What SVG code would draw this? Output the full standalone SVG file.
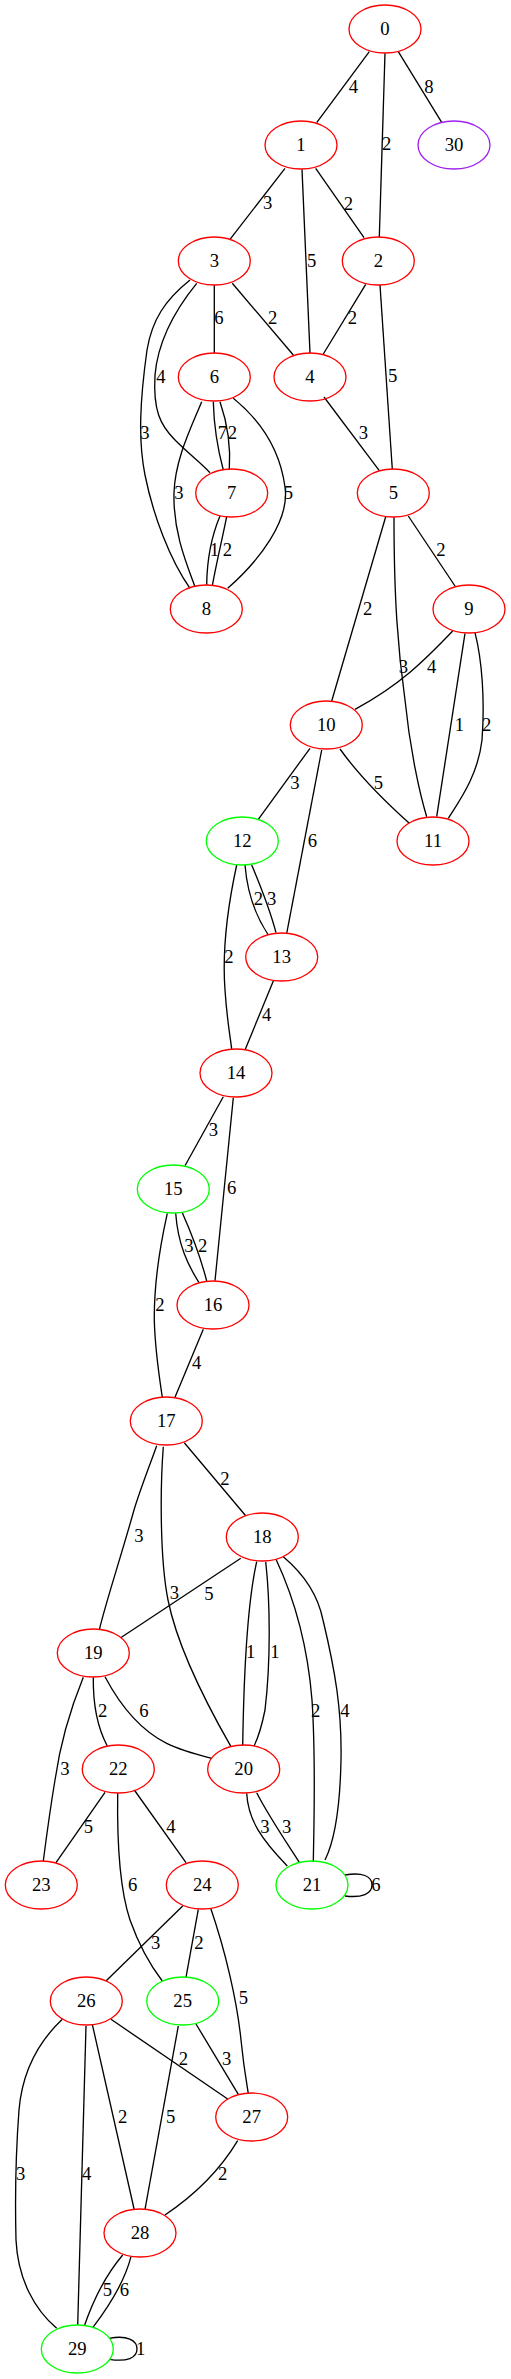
<svg xmlns="http://www.w3.org/2000/svg" width="511" height="2379" viewBox="0 0 511 2379">
<style>
.n ellipse{fill:none;stroke-width:1.33}
.r ellipse{stroke:#ff0000}
.g ellipse{stroke:#00ff00}
.p ellipse{stroke:#a020f0}
text{font-family:"Liberation Serif","Times New Roman",serif;font-size:18.67px;text-anchor:middle;fill:#000}
#edges path{fill:none;stroke:#000;stroke-width:1.33}
</style>
<rect width="511" height="2379" fill="#fff"/>
<g id="edges">
<path d="M369.3,51.7 L316.7,122.7"/><text x="353.3" y="93.3">4</text>
<path d="M385,53.3 L379.3,237.3"/><text x="386.7" y="150.3">2</text>
<path d="M398.3,51.7 L441.7,122.3"/><text x="429" y="92.7">8</text>
<path d="M285,168.3 L230,239.3"/><text x="267.7" y="209.3">3</text>
<path d="M302,169.3 L310,353.3"/><text x="311.7" y="267">5</text>
<path d="M315.7,168.3 L364,237.7"/><text x="348.3" y="210">2</text>
<path d="M214.3,285 L214.3,353.3"/><text x="219" y="324.3">6</text>
<path d="M232.3,283.3 L293.3,355"/><text x="272.7" y="324.3">2</text>
<path d="M365.7,284.3 L323.3,354"/><text x="352.3" y="324.3">2</text>
<path d="M380,285 L392.3,469.3"/><text x="392.7" y="382">5</text>
<path d="M190,280 C165,300 152,320 147,350 C140,400 138,440 145,475 C153,515 170,560 190,588.3"/><text x="145" y="439.3">3</text>
<path d="M196.7,283.3 C175,310 158,340 155,375 C153,410 160,425 175,440 C190,455 200,462 210,472.7"/><text x="161" y="382.7">4</text>
<path d="M201.7,401.7 C190,430 175,460 174,493 C173,530 185,560 195,586.7"/><text x="179" y="498.7">3</text>
<path d="M233.3,398.3 C260,420 280,450 285,487 C290,520 260,560 227.7,588.3"/><text x="288.3" y="498.7">5</text>
<path d="M213.3,401.7 C214,430 218,450 223.3,470"/><text x="222.3" y="439.3">7</text>
<path d="M220,401.7 C228,425 231,445 229.3,470"/><text x="232.3" y="439.3">2</text>
<path d="M220,516 C212,535 207,555 206.7,585"/><text x="214.3" y="556">1</text>
<path d="M226.7,516.7 C222,540 216,565 212.3,586"/><text x="227.3" y="556">2</text>
<path d="M324,397 L379.3,470.7"/><text x="363.3" y="439.3">3</text>
<path d="M408.3,516 L455,586"/><text x="441" y="556">2</text>
<path d="M385.7,516.7 L331.7,701"/><text x="367.7" y="615.3">2</text>
<path d="M394,517.3 C394,600 398,650 405,700 C410,750 420,795 426.7,816.7"/><text x="403.3" y="672.7">3</text>
<path d="M452.7,631 C425,660 400,685 355,709.3"/><text x="431.7" y="672.7">4</text>
<path d="M465,633.3 L436.7,816.7"/><text x="459.3" y="731">1</text>
<path d="M475,632.7 C482,660 485,700 482,740 C478,775 460,800 448.3,818.3"/><text x="486.7" y="731">2</text>
<path d="M310,748.3 L258.3,819.3"/><text x="295" y="788.7">3</text>
<path d="M321.7,750 L286.7,933.3"/><text x="312.3" y="847">6</text>
<path d="M340,749 C355,770 380,797 409.3,823.3"/><text x="378.3" y="788.7">5</text>
<path d="M245,865 C247,890 255,915 268.3,935"/><text x="258.3" y="905">2</text>
<path d="M251.7,865 C258,880 270,910 276,932.7"/><text x="271.7" y="905">3</text>
<path d="M236.7,865 C228,905 222,950 225,990 C227,1020 230,1035 231.7,1049.3"/><text x="229" y="962.7">2</text>
<path d="M273.3,981 L245,1050"/><text x="266.7" y="1021">4</text>
<path d="M223.3,1096.7 L185,1165.7"/><text x="213.3" y="1136">3</text>
<path d="M233.3,1097.7 L215,1280.7"/><text x="231.7" y="1194.3">6</text>
<path d="M175.7,1213.3 C178,1245 188,1265 199,1282.7"/><text x="189" y="1252">3</text>
<path d="M182.3,1212.7 C190,1230 200,1255 206.7,1281"/><text x="202.7" y="1252">2</text>
<path d="M167.3,1213.3 C158,1255 154,1290 154.3,1320 C155,1350 159,1375 162.3,1397.3"/><text x="160" y="1311">2</text>
<path d="M203.3,1329.3 L175,1397.3"/><text x="196.7" y="1368.7">4</text>
<path d="M184.3,1442.7 L245.7,1515.7"/><text x="225" y="1485">2</text>
<path d="M156.7,1445.7 C148,1470 140,1490 134,1510 C120,1560 105,1605 99.3,1630"/><text x="139" y="1542">3</text>
<path d="M163.3,1446.7 C160,1490 160,1560 168,1600 C178,1650 210,1710 231,1746.7"/><text x="174.3" y="1598.7">3</text>
<path d="M240.7,1558.3 C215,1575 190,1592 120.7,1637.7"/><text x="209" y="1600">5</text>
<path d="M256.7,1561.7 C248,1600 244,1660 242.7,1745.7"/><text x="250.7" y="1658.3">1</text>
<path d="M265.7,1561.7 C270,1600 271,1660 265,1710 C262,1725 258,1738 254,1746"/><text x="275" y="1658.3">1</text>
<path d="M276,1559.3 C295,1600 308,1650 312,1700 C316,1760 314,1820 313.3,1861.7"/><text x="315.7" y="1717">2</text>
<path d="M283.3,1556.7 C305,1575 318,1595 323,1620 C335,1670 342,1710 341,1760 C340,1810 335,1840 325,1860"/><text x="345" y="1717">4</text>
<path d="M93.3,1677.3 C93,1700 96,1725 107.3,1746"/><text x="102.7" y="1717">2</text>
<path d="M105,1676.7 C120,1705 140,1730 166.7,1743.3 C180,1750 195,1754 211.7,1758.3"/><text x="144" y="1717">6</text>
<path d="M83.3,1677.3 C70,1710 60,1745 55,1780 C50,1810 46,1840 43.3,1861"/><text x="65" y="1775">3</text>
<path d="M246.7,1793.3 C248,1820 262,1840 287.3,1866"/><text x="265" y="1832.7">3</text>
<path d="M256.7,1792.7 C268,1815 285,1840 299.3,1862.3"/><text x="286.7" y="1832.7">3</text>
<path d="M345,1875 C362,1872 372,1876 372,1885 C372,1894 362,1898 345,1896"/><text x="376" y="1891">6</text>
<path d="M105,1792.3 L56,1862.7"/><text x="88.3" y="1832.7">5</text>
<path d="M117.7,1793.3 C117,1840 120,1890 130,1920 C140,1948 150,1965 162.3,1981"/><text x="132.7" y="1891">6</text>
<path d="M134.3,1790 L186,1862.7"/><text x="171" y="1832.7">4</text>
<path d="M182.7,1906 L106,1981"/><text x="155.7" y="1949.3">3</text>
<path d="M198.3,1909.3 L186,1977.3"/><text x="199" y="1949.3">2</text>
<path d="M210.7,1908.3 C225,1950 237,2000 241,2040 C244,2070 247,2085 248.3,2093.3"/><text x="243.3" y="2004.3">5</text>
<path d="M111,2019.3 L227.7,2099"/><text x="183.3" y="2065.3">2</text>
<path d="M92.3,2024.3 L134.3,2210"/><text x="122.7" y="2122.7">2</text>
<path d="M62.3,2019.3 C35,2045 22,2075 19,2110 C16,2150 15,2200 16,2240 C18,2280 35,2310 56.7,2328.3"/><text x="20.7" y="2180">3</text>
<path d="M86,2026 L77.7,2325"/><text x="86.7" y="2180">4</text>
<path d="M196,2024 L238.3,2094.3"/><text x="226.7" y="2065.3">3</text>
<path d="M178.3,2026 L145,2209.3"/><text x="170.7" y="2122.7">5</text>
<path d="M237.7,2140.7 C220,2170 195,2195 165,2215"/><text x="222.7" y="2180">2</text>
<path d="M122.7,2255 C110,2270 95,2295 84.3,2326"/><text x="107.3" y="2296">5</text>
<path d="M131,2256.7 C125,2280 110,2305 92.7,2327.7"/><text x="124.3" y="2296">6</text>
<path d="M109.3,2338.3 C127,2335 137,2340 137,2349 C137,2358 127,2362 109.3,2359.3"/><text x="140.7" y="2355">1</text>
</g>
<g id="node0" class="n r"><ellipse cx="385" cy="29" rx="36" ry="24"/><text x="385" y="35">0</text></g>
<g id="node1" class="n r"><ellipse cx="301" cy="145" rx="36" ry="24"/><text x="301" y="151">1</text></g>
<g id="node30" class="n p"><ellipse cx="454" cy="145" rx="36" ry="24"/><text x="454" y="151">30</text></g>
<g id="node3" class="n r"><ellipse cx="214.3" cy="261" rx="36" ry="24"/><text x="214.3" y="267">3</text></g>
<g id="node2" class="n r"><ellipse cx="378.3" cy="261" rx="36" ry="24"/><text x="378.3" y="267">2</text></g>
<g id="node6" class="n r"><ellipse cx="214.3" cy="377" rx="36" ry="24"/><text x="214.3" y="383">6</text></g>
<g id="node4" class="n r"><ellipse cx="310" cy="377" rx="36" ry="24"/><text x="310" y="383">4</text></g>
<g id="node7" class="n r"><ellipse cx="231.7" cy="493" rx="36" ry="24"/><text x="231.7" y="499">7</text></g>
<g id="node5" class="n r"><ellipse cx="393.3" cy="493" rx="36" ry="24"/><text x="393.3" y="499">5</text></g>
<g id="node8" class="n r"><ellipse cx="206.3" cy="609" rx="36" ry="24"/><text x="206.3" y="615">8</text></g>
<g id="node9" class="n r"><ellipse cx="469" cy="609" rx="36" ry="24"/><text x="469" y="615">9</text></g>
<g id="node10" class="n r"><ellipse cx="326.3" cy="725" rx="36" ry="24"/><text x="326.3" y="731">10</text></g>
<g id="node12" class="n g"><ellipse cx="242.3" cy="841" rx="36" ry="24"/><text x="242.3" y="847">12</text></g>
<g id="node11" class="n r"><ellipse cx="433" cy="841" rx="36" ry="24"/><text x="433" y="847">11</text></g>
<g id="node13" class="n r"><ellipse cx="281.7" cy="957" rx="36" ry="24"/><text x="281.7" y="963">13</text></g>
<g id="node14" class="n r"><ellipse cx="236" cy="1073" rx="36" ry="24"/><text x="236" y="1079">14</text></g>
<g id="node15" class="n g"><ellipse cx="173.3" cy="1189" rx="36" ry="24"/><text x="173.3" y="1195">15</text></g>
<g id="node16" class="n r"><ellipse cx="213" cy="1305" rx="36" ry="24"/><text x="213" y="1311">16</text></g>
<g id="node17" class="n r"><ellipse cx="166.3" cy="1421" rx="36" ry="24"/><text x="166.3" y="1427">17</text></g>
<g id="node18" class="n r"><ellipse cx="262.3" cy="1537" rx="36" ry="24"/><text x="262.3" y="1543">18</text></g>
<g id="node19" class="n r"><ellipse cx="93.3" cy="1653" rx="36" ry="24"/><text x="93.3" y="1659">19</text></g>
<g id="node22" class="n r"><ellipse cx="118.3" cy="1769" rx="36" ry="24"/><text x="118.3" y="1775">22</text></g>
<g id="node20" class="n r"><ellipse cx="243.7" cy="1769" rx="36" ry="24"/><text x="243.7" y="1775">20</text></g>
<g id="node23" class="n r"><ellipse cx="41.3" cy="1885" rx="36" ry="24"/><text x="41.3" y="1891">23</text></g>
<g id="node24" class="n r"><ellipse cx="202.3" cy="1885" rx="36" ry="24"/><text x="202.3" y="1891">24</text></g>
<g id="node21" class="n g"><ellipse cx="312" cy="1885" rx="36" ry="24"/><text x="312" y="1891">21</text></g>
<g id="node26" class="n r"><ellipse cx="86.3" cy="2001" rx="36" ry="24"/><text x="86.3" y="2007">26</text></g>
<g id="node25" class="n g"><ellipse cx="182.7" cy="2001" rx="36" ry="24"/><text x="182.7" y="2007">25</text></g>
<g id="node27" class="n r"><ellipse cx="251.7" cy="2117" rx="36" ry="24"/><text x="251.7" y="2123">27</text></g>
<g id="node28" class="n r"><ellipse cx="140" cy="2233" rx="36" ry="24"/><text x="140" y="2239">28</text></g>
<g id="node29" class="n g"><ellipse cx="77.3" cy="2349" rx="36" ry="24"/><text x="77.3" y="2355">29</text></g>
</svg>
